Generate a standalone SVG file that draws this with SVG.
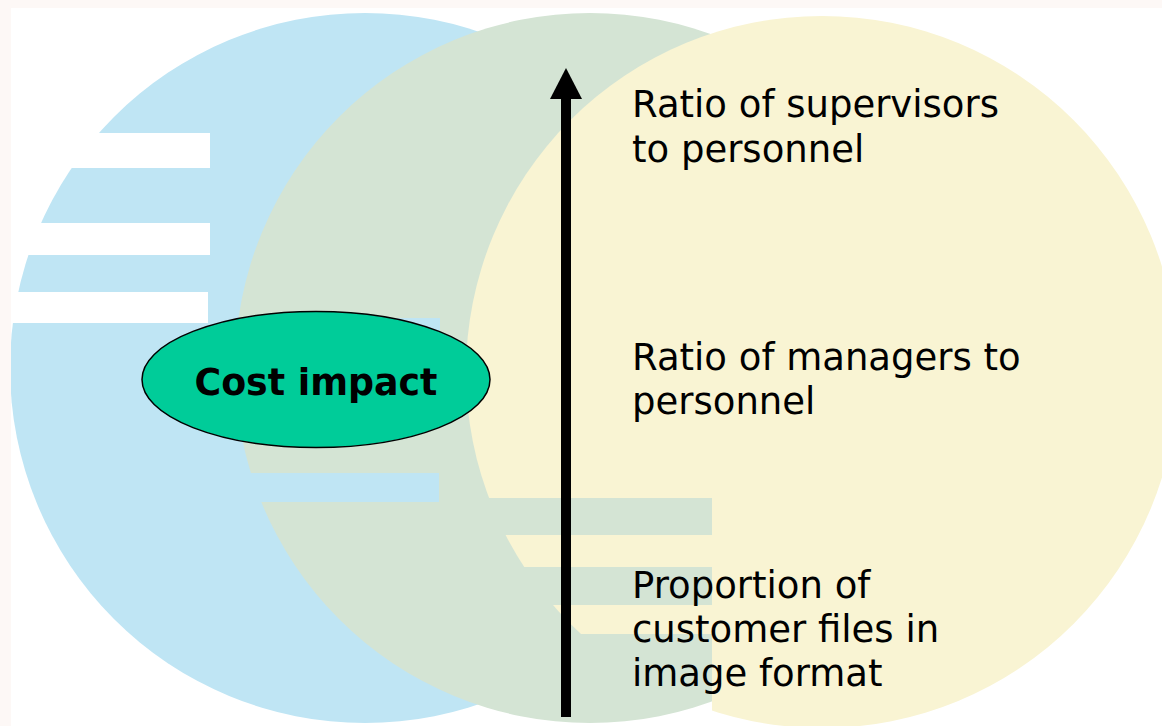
<svg xmlns="http://www.w3.org/2000/svg" width="1162" height="726" viewBox="0 0 1162 726">
  <defs>
    <style>
      .label { font-family: "DejaVu Sans", Verdana, sans-serif; font-size: 37px; fill: #000; }
      .node-title { font-family: "DejaVu Sans", Verdana, sans-serif; font-size: 38px; font-weight: bold; fill: #000; text-anchor: middle; }
      .keep { fill: #fff; }
      .cut { fill: #000; }
    </style>
    <!-- horizontal bars cut out of each disc -->
    <mask id="cutBlue" maskUnits="userSpaceOnUse" x="0" y="0" width="1162" height="726">
      <rect class="keep" x="0" y="0" width="1162" height="726"/>
      <rect class="cut" x="0" y="133" width="210" height="35"/>
      <rect class="cut" x="0" y="223" width="210" height="32"/>
      <rect class="cut" x="0" y="292" width="208" height="31"/>
    </mask>
    <mask id="cutGreen" maskUnits="userSpaceOnUse" x="0" y="0" width="1162" height="726">
      <rect class="keep" x="0" y="0" width="1162" height="726"/>
      <rect class="cut" x="0" y="318" width="440" height="32"/>
      <rect class="cut" x="0" y="473" width="439" height="29"/>
    </mask>
    <mask id="cutYellow" maskUnits="userSpaceOnUse" x="0" y="0" width="1162" height="726">
      <rect class="keep" x="0" y="0" width="1162" height="726"/>
      <rect class="cut" x="0" y="498" width="712" height="37"/>
      <rect class="cut" x="0" y="567" width="712" height="38"/>
      <rect class="cut" x="0" y="634" width="712" height="100"/>
    </mask>
    <marker id="arrowHead" markerUnits="userSpaceOnUse" markerWidth="31" markerHeight="32" viewBox="0 0 31 32" refX="0" refY="16" orient="auto">
      <path d="M0,0 L31,16 L0,32 Z" fill="#000"/>
    </marker>
  </defs>

  <!-- page -->
  <rect x="0" y="0" width="1162" height="726" fill="#ffffff"/>

  <!-- backdrop discs -->
  <g id="backdrop">
    <circle cx="365" cy="368" r="355" fill="#bfe5f4" mask="url(#cutBlue)"/>
    <circle cx="590" cy="368" r="355" fill="#d4e4d4" mask="url(#cutGreen)"/>
    <circle cx="822" cy="372" r="356" fill="#f9f4d3" mask="url(#cutYellow)"/>
  </g>

  <!-- thin page margin -->
  <rect x="0" y="0" width="1162" height="8" fill="#fdf8f6"/>
  <rect x="0" y="0" width="11" height="726" fill="#fdf8f6"/>

  <!-- connectors -->
  <g id="connectors">
    <line x1="566" y1="717" x2="566" y2="99" stroke="#000" stroke-width="10" marker-end="url(#arrowHead)"/>
  </g>

  <!-- nodes -->
  <g id="cost-impact">
    <ellipse cx="316" cy="379.5" rx="174" ry="68" fill="#00cc99" stroke="#000" stroke-width="1.5"/>
    <text class="node-title" x="316" y="395" textLength="243" lengthAdjust="spacingAndGlyphs">Cost impact</text>
  </g>

  <g id="supervisors-ratio">
    <text class="label" x="632" y="117">Ratio of supervisors</text>
    <text class="label" x="632" y="162">to personnel</text>
  </g>

  <g id="managers-ratio">
    <text class="label" x="632" y="370">Ratio of managers to</text>
    <text class="label" x="632" y="414">personnel</text>
  </g>

  <g id="image-format-share">
    <text class="label" x="632" y="598">Proportion of</text>
    <text class="label" x="632" y="642">customer files in</text>
    <text class="label" x="632" y="686">image format</text>
  </g>
</svg>
